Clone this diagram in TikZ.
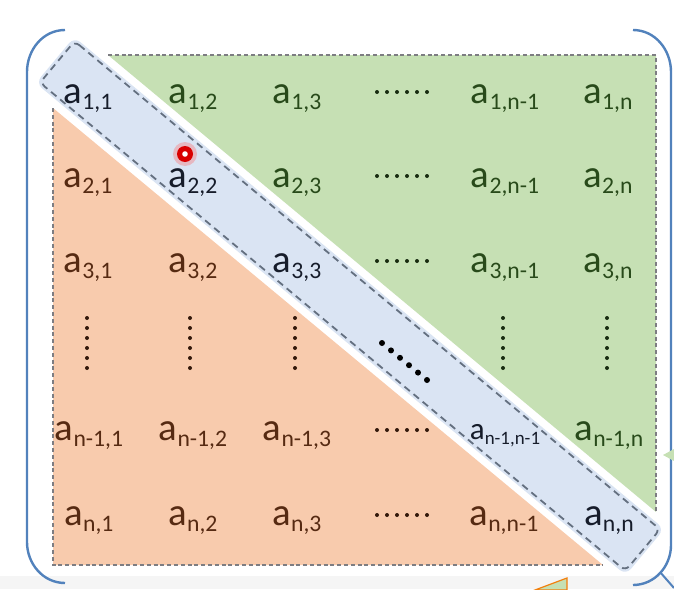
\documentclass[tikz,border=0pt]{standalone}
\usepackage{fontspec}
\setmainfont{Carlito}
\usetikzlibrary{calc}
\definecolor{upgreen}{RGB}{198,224,180}
\definecolor{loworange}{RGB}{248,203,173}
\definecolor{diagblue}{RGB}{218,228,243}
\definecolor{txtgreen}{RGB}{40,74,26}
\definecolor{txtbrown}{RGB}{86,42,18}
\definecolor{txtdiag}{RGB}{22,28,42}
\definecolor{brkblue}{RGB}{82,130,188}
\definecolor{edgegray}{RGB}{125,125,130}
\definecolor{banddash}{RGB}{100,112,128}
\newcommand{\ent}[1]{a\raisebox{-0.18em}{\scalebox{0.61}{#1}}}
\begin{document}
\begin{tikzpicture}[x=0.5pt,y=-0.5pt]
\tikzset{entry/.style={inner sep=0pt,anchor=base,font=\fontsize{19.4pt}{20pt}\selectfont}}
\tikzset{border/.style={dash pattern=on 2pt off 1.4pt,line width=0.6pt}}
\useasboundingbox (0,0) rectangle (674,589);
\fill[gray!8] (0,576) rectangle (674,589);
% upper and lower parts
\fill[upgreen] (108,55) -- (656,55) -- (656,512) -- cycle;
\draw[border,edgegray] (108,55) -- (656,55) -- (656,512);
\fill[loworange] (53,108) -- (603,565) -- (53,565) -- cycle;
\draw[border,edgegray] (53,108) -- (53,565) -- (603,565);
% diagonal band
\coordinate (dA) at (55,60);
\coordinate (dB) at (645,552);
\coordinate (dA2) at ($(dA)!1.5pt!(dB)$);
\coordinate (dB2) at ($(dB)!1.5pt!(dA)$);
\fill[diagblue,rounded corners=4pt] ($(dA)!15pt!90:(dB)$) -- ($(dB)!15pt!-90:(dA)$)
  -- ($(dB)!15pt!90:(dA)$) -- ($(dA)!15pt!-90:(dB)$) -- cycle;
\draw[banddash,dash pattern=on 3.5pt off 2.4pt,line width=0.9pt,rounded corners=3pt]
  ($(dA2)!13.5pt!90:(dB2)$) -- ($(dB2)!13.5pt!-90:(dA2)$)
  -- ($(dB2)!13.5pt!90:(dA2)$) -- ($(dA2)!13.5pt!-90:(dB2)$) -- cycle;
% brackets
\draw[brkblue,line width=1.2pt] (65,30) to[out=180,in=90] (27,72) -- (27,542) to[out=-90,in=180] (65,583);
\draw[brkblue,line width=1.2pt] (633,30) to[out=0,in=90] (671,72) -- (671,545) to[out=-90,in=0] (633,585);
\draw[brkblue,line width=1pt] (660,572) -- (674,588);
\fill[upgreen] (663,455) -- (674,449) -- (674,461) -- cycle;
\filldraw[fill=upgreen,draw=orange!80!brown,line width=0.6pt] (567,578) -- (567,590) -- (535,590) -- cycle;
% row 1
\node[entry,txtdiag] (a11) at (88,103) {\ent{1,1}};
\node[entry,txtgreen] (a12) at (193,103) {\ent{1,2}};
\node[entry,txtgreen] (a13) at (297,103) {\ent{1,3}};
\node[entry,txtgreen] (a1m) at (505,103) {\ent{1,n-1}};
\node[entry,txtgreen] (a1n) at (608,103) {\ent{1,n}};
% row 2
\node[entry,txtbrown] (a21) at (88,187) {\ent{2,1}};
\node[entry,txtdiag] (a22) at (193,187) {\ent{2,2}};
\node[entry,txtgreen] (a23) at (297,187) {\ent{2,3}};
\node[entry,txtgreen] (a2m) at (505,187) {\ent{2,n-1}};
\node[entry,txtgreen] (a2n) at (608,187) {\ent{2,n}};
% row 3
\node[entry,txtbrown] (a31) at (88,272) {\ent{3,1}};
\node[entry,txtbrown] (a32) at (193,272) {\ent{3,2}};
\node[entry,txtdiag] (a33) at (297,272) {\ent{3,3}};
\node[entry,txtgreen] (a3m) at (505,272) {\ent{3,n-1}};
\node[entry,txtgreen] (a3n) at (608,272) {\ent{3,n}};
% row n-1
\node[entry,txtbrown] (am1) at (89,440) {\ent{n-1,1}};
\node[entry,txtbrown] (am2) at (193,440) {\ent{n-1,2}};
\node[entry,txtbrown] (am3) at (297,440) {\ent{n-1,3}};
\node[entry,txtdiag,font=\fontsize{15.5pt}{16pt}\selectfont] (amm) at (505,439) {\ent{n-1,n-1}};
\node[entry,txtgreen] (amn) at (609,440) {\ent{n-1,n}};
% row n
\node[entry,txtbrown] (an1) at (89,525) {\ent{n,1}};
\node[entry,txtbrown] (an2) at (193,525) {\ent{n,2}};
\node[entry,txtbrown] (an3) at (297,525) {\ent{n,3}};
\node[entry,txtbrown] (anm) at (504,525) {\ent{n,n-1}};
\node[entry,txtdiag] (ann) at (609,525) {\ent{n,n}};
% dots
\foreach \y/\col in {92/txtgreen,176/txtgreen,261/txtgreen,430/txtbrown,515/txtbrown}
  \foreach \i in {0,...,5} \fill[\col!60!black] (377+\i*10,\y) circle (1pt);
\foreach \x/\col in {87/txtbrown,190/txtbrown,295/txtbrown,503/txtgreen,607/txtgreen}
  \foreach \i in {0,...,5} \fill[\col!60!black] (\x,318+\i*10) circle (1pt);
\foreach \i in {0,...,5} \fill[black] (382+\i*9,343+\i*7.4) circle (1.5pt);
% pointer mark
\fill[red!60,opacity=0.35] (185,154) circle (6pt);
\fill[red!85!black] (185,154) circle (4pt);
\fill[white] (185,154) circle (1.4pt);
\end{tikzpicture}
\end{document}
